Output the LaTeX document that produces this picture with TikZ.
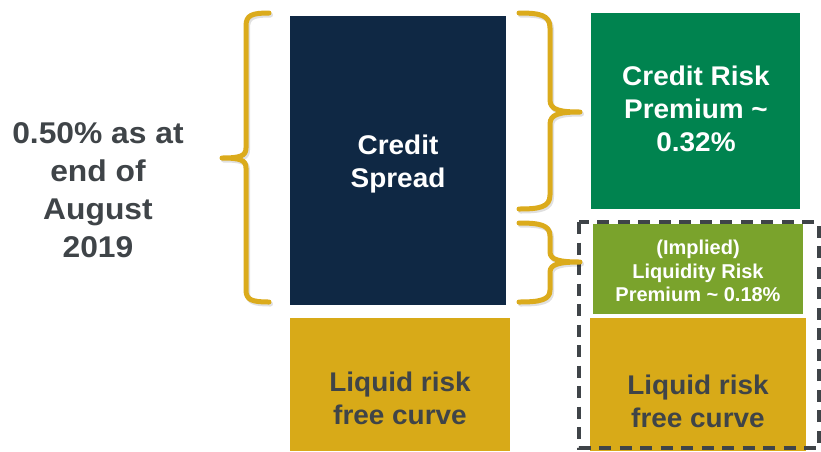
\documentclass[tikz,border=0pt]{standalone}
\usepackage{fontspec}
\setmainfont{Liberation Sans}
\newfontfamily\wideA{Liberation Sans}[FakeStretch=1.06]
\newfontfamily\wideB{Liberation Sans}[FakeStretch=1.035]
\definecolor{navy}{HTML}{0F2844}
\definecolor{dgreen}{HTML}{00834F}
\definecolor{lgreen}{HTML}{7AA32C}
\definecolor{gold}{HTML}{D8AA18}
\definecolor{bracegold}{HTML}{DBAB1C}
\definecolor{dgray}{HTML}{3F4448}
\begin{document}
\begin{tikzpicture}[x=1pt,y=-1pt,
  box/.style={rectangle,draw=none,inner sep=0pt,outer sep=0pt},
  bigtxt/.style={align=center,inner sep=0pt,font=\wideB\fontsize{27}{33}\selectfont\bfseries},
  smalltxt/.style={align=center,inner sep=0pt,font=\fontsize{20}{23.5}\selectfont\bfseries,text=white},
  lefttxt/.style={align=center,inner sep=0pt,font=\wideA\fontsize{30}{38}\selectfont\bfseries,text=dgray},
  bracepath/.style={draw=bracegold,line width=5pt,line cap=round,line join=round},
  braceshadow/.style={draw=black,opacity=0.12,line width=5pt,line cap=round,line join=round},
  dashbox/.style={draw=dgray,line width=4pt,dash pattern=on 12pt off 8.5pt}]
\useasboundingbox (0,0) rectangle (821,451);

% boxes
\node[box,fill=navy,minimum width=216pt,minimum height=289pt] (cs) at (398,160.5) {};
\node[box,fill=gold,minimum width=220pt,minimum height=133pt] (lfl) at (400,384.5) {};
\node[box,fill=dgreen,minimum width=209pt,minimum height=196pt] (crp) at (695.5,111) {};
\node[box,fill=lgreen,minimum width=210pt,minimum height=90pt] (lrp) at (698,269) {};
\node[box,fill=gold,minimum width=216pt,minimum height=133pt] (rfl) at (698,384.5) {};

% dashed frame
\coordinate (dtl) at (579,222);
\coordinate (dbr) at (819,448);
\draw[dashbox] (dtl) rectangle (dbr);

% texts
\node[lefttxt] (lt) at (98,190.5) {0.50\% as at\\end of\\August\\2019};
\node[bigtxt,text=white] (cst) at (398,164) {Credit\\Spread};
\node[bigtxt,text=white] (crpt) at (696,109) {Credit Risk\\Premium \textasciitilde\\0.32\%};
\node[smalltxt] (lrpt) at (698,271) {(Implied)\\Liquidity Risk\\Premium \textasciitilde{} 0.18\%};
\node[bigtxt,text=dgray] (lflt) at (400,398.5) {Liquid risk\\free curve};
\node[bigtxt,text=dgray] (rflt) at (698,401.5) {Liquid risk\\free curve};

% braces (shadow then brace)
\foreach \s/\st in {1/braceshadow,0/bracepath}{
\begin{scope}[shift={(1.5*\s,2*\s)}]
\path[\st] (269,13) .. controls (252,13) and (246,15) .. (246,26) -- (246,148)
  .. controls (246,156) and (240,158) .. (222,158)
  .. controls (240,158) and (246,160) .. (246,168) -- (246,290)
  .. controls (246,300) and (252,302) .. (269,302);
\path[\st] (519,13) .. controls (540,13) and (550,15) .. (550,28) -- (550,100)
  .. controls (550,110) and (560,112) .. (580,112)
  .. controls (560,112) and (550,114) .. (550,124) -- (550,195)
  .. controls (550,207) and (540,209) .. (519,209);
\path[\st] (519,223) .. controls (540,223) and (550,225) .. (550,236) -- (550,252)
  .. controls (550,260) and (560,262) .. (580,262)
  .. controls (560,262) and (550,264) .. (550,272) -- (550,290)
  .. controls (550,300) and (540,302) .. (519,302);
\end{scope}}
\end{tikzpicture}
\end{document}
